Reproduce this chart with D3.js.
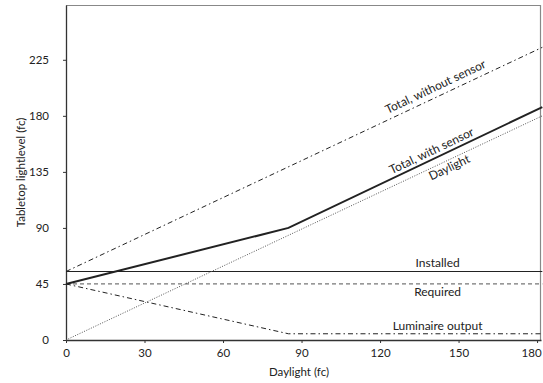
<!DOCTYPE html>
<html><head><meta charset="utf-8">
<script src="https://cdn.jsdelivr.net/npm/d3@7"></script>
<style>body{margin:0;background:#fff}svg{display:block}text{font-family:Lato,"Open Sans",sans-serif;fill:#222}</style>
</head><body><svg id="c" width="543" height="383"></svg>
<script>
const xTicks = [0,30,60,90,120,150,180];
const yTicks = [0,45,90,135,180,225];
const daylight = [[0,0],[182,180]];
const totalWithout = [[0,55],[182,235]];
const totalWith = [[0,45],[85,90],[182,187]];
const installed = [[0,55],[182,55]];
const required = [[0,45],[182,45]];
const luminaire = [[0,45],[85,5],[182,5]];
const labels = [
  {text:"Total, without sensor", x:142.5, y:197.5, dy:-4, rot:true},
  {text:"Total, with sensor", x:141, y:146, dy:-4, rot:true},
  {text:"Daylight", x:145, y:145, dy:13, rot:true},
  {text:"Installed", x:142, y:55, dy:-5, rot:false},
  {text:"Required", x:142, y:45, dy:12, rot:false},
  {text:"Luminaire output", x:142, y:5, dy:-4, rot:false}
];

const m = {l:66, t:5, r:2, b:43};
const W = 543, H = 383;
const svg = d3.select("#c");
const x = d3.scaleLinear().domain([0,181.5]).range([m.l, W-m.r]);
const y = d3.scaleLinear().domain([0,269]).range([H-m.b, m.t]);

svg.append("line").attr("x1",m.l).attr("x2",W-m.r).attr("y1",m.t+0.5).attr("y2",m.t+0.5).attr("stroke","#888").attr("stroke-width",1.2);
svg.append("line").attr("x1",W-m.r-0.5).attr("x2",W-m.r-0.5).attr("y1",m.t).attr("y2",H-m.b).attr("stroke","#888").attr("stroke-width",1.2);

const xa = svg.append("g").attr("transform",`translate(0,${H-m.b})`)
  .call(d3.axisBottom(x).tickValues(xTicks).tickSize(3).tickSizeOuter(0).tickPadding(6));
const ya = svg.append("g").attr("transform",`translate(${m.l},0)`)
  .call(d3.axisLeft(y).tickValues(yTicks).tickSize(3).tickSizeOuter(0).tickPadding(14));
[xa,ya].forEach(g=>{
  g.select(".domain").attr("stroke","#333").attr("stroke-width",1.3);
  g.selectAll(".tick line").attr("stroke","#333");
  g.selectAll(".tick text").attr("font-size",11.5).attr("fill","#222").style("font-family","Lato, sans-serif");
});
xa.selectAll(".tick text").filter(d=>d===180).attr("dx",-6);

const line = d3.line().x(d=>x(d[0])).y(d=>y(d[1]));
function draw(data, opts){
  svg.append("path").datum(data).attr("d",line).attr("fill","none")
    .attr("stroke",opts.c||"#222").attr("stroke-width",opts.w||1)
    .attr("stroke-dasharray",opts.dash||null);
}
draw(installed,{w:1.2});
draw(required,{c:"#777",w:1.3,dash:"4,3"});
draw(luminaire,{w:1,dash:"5,3,1.5,3"});
draw(daylight,{c:"#555",w:1,dash:"1,1.5"});
draw(totalWithout,{w:1,dash:"5,3,1.5,3"});
draw(totalWith,{w:2});

const ang = -Math.atan((y(0)-y(1))/(x(1)-x(0)))*180/Math.PI;
labels.forEach(L=>{
  const px = x(L.x), py = y(L.y);
  const t = svg.append("text").attr("font-size",12).attr("text-anchor","middle").text(L.text);
  if(L.rot) t.attr("transform",`translate(${px},${py}) rotate(${ang}) translate(0,${L.dy})`);
  else t.attr("x",px).attr("y",py+L.dy);
});

svg.append("text").attr("font-size",11.5).attr("text-anchor","middle")
  .attr("transform",`translate(25,${(m.t+H-m.b)/2}) rotate(-90)`).text("Tabletop lightlevel (fc)");
svg.append("text").attr("font-size",11.5).attr("text-anchor","middle")
  .attr("x",299).attr("y",376).text("Daylight (fc)");
</script></body></html>
